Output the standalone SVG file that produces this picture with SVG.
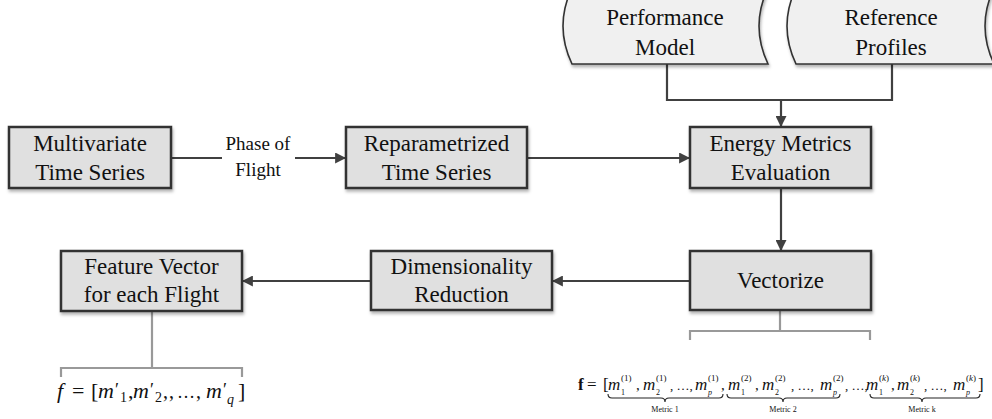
<svg xmlns="http://www.w3.org/2000/svg" width="992" height="419" viewBox="0 0 992 419">
<defs>
<filter id="sh" x="-10%" y="-10%" width="130%" height="140%">
<feDropShadow dx="1" dy="2.5" stdDeviation="1.8" flood-color="#000" flood-opacity="0.3"/>
</filter>
<marker id="ah" viewBox="0 0 10 10" refX="9" refY="5" markerWidth="11" markerHeight="11" markerUnits="userSpaceOnUse" orient="auto">
<path d="M0,0 L10,5 L0,10 Z" fill="#404040"/>
</marker>
<style>
.box{fill:#e0e0e0;stroke:#333;stroke-width:2.5;filter:url(#sh)}
.store{fill:#f0f0f0;stroke:#333;stroke-width:1.6;filter:url(#sh)}
text{font-family:'Liberation Serif','DejaVu Serif',serif;fill:#111}
.t{font-size:23px;text-anchor:middle}
.lbl{font-size:19px;text-anchor:middle}
.c{fill:none;stroke:#404040;stroke-width:2.2}
.g{fill:none;stroke:#999;stroke-width:2.2}
.mi{font-style:italic}
.brace{fill:none;stroke:#222;stroke-width:1.1}
</style>
</defs>

<g id="connectors">
<path class="c" d="M171,158 H222"/>
<path class="c" d="M295,158 H345" marker-end="url(#ah)"/>
<path class="c" d="M527,158 H689" marker-end="url(#ah)"/>
<path class="c" d="M667,64 V100 H892 V64"/>
<path class="c" d="M781,100 V126" marker-end="url(#ah)"/>
<path class="c" d="M781,188 V250" marker-end="url(#ah)"/>
<path class="c" d="M690,281 H553" marker-end="url(#ah)"/>
<path class="c" d="M371,281 H243" marker-end="url(#ah)"/>
<path class="g" d="M780,311 V331"/>
<path class="g" d="M690,340 V331 H870 V340"/>
<path class="g" d="M152,312 V368"/>
<path class="g" d="M61,377 V368 H242 V377"/>
<text class="lbl" x="258" y="150" font-family="Liberation Serif, serif">Phase of</text>
<text class="lbl" x="258" y="176" font-family="Liberation Serif, serif">Flight</text>
</g>

<g id="performance-model" font-family="Liberation Serif, serif">
<path class="store" d="M572,-12 L768,-12 Q750,26 768,64 L572,64 Q554,26 572,-12 Z"/>
<text class="t" x="665" y="25">Performance</text>
<text class="t" x="665" y="55">Model</text>
</g>

<g id="reference-profiles">
<path class="store" d="M796,-12 L994,-12 Q976,26 994,64 L796,64 Q778,26 796,-12 Z"/>
<text class="t" x="891" y="25">Reference</text>
<text class="t" x="891" y="55">Profiles</text>
</g>

<g id="multivariate">
<rect class="box" x="9" y="127" width="162" height="61"/>
<text class="t" x="90" y="151">Multivariate</text>
<text class="t" x="90" y="180">Time Series</text>
</g>

<g id="reparametrized">
<rect class="box" x="346" y="127" width="181" height="61"/>
<text class="t" x="436.5" y="151">Reparametrized</text>
<text class="t" x="436.5" y="180">Time Series</text>
</g>

<g id="energy-metrics">
<rect class="box" x="690" y="127" width="181" height="61"/>
<text class="t" x="780.5" y="151">Energy Metrics</text>
<text class="t" x="780.5" y="180">Evaluation</text>
</g>

<g id="vectorize">
<rect class="box" x="690" y="251" width="181" height="59"/>
<text class="t" x="780.5" y="288">Vectorize</text>
</g>

<g id="dimensionality">
<rect class="box" x="371" y="251" width="181" height="59"/>
<text class="t" x="461.5" y="274">Dimensionality</text>
<text class="t" x="461.5" y="302">Reduction</text>
</g>

<g id="feature-vector">
<rect class="box" x="61" y="251" width="181" height="60"/>
<text class="t" x="151.5" y="274">Feature Vector</text>
<text class="t" x="151.5" y="302">for each Flight</text>
</g>

<g id="formula-left">
<text x="57" y="398" font-size="22" class="mi">f</text>
<text x="72" y="398" font-size="22">=</text>
<text x="91" y="398" font-size="22">[</text>
<text x="98" y="398" font-size="22" class="mi">m</text>
<text x="115" y="396" font-size="18">′</text>
<text x="120" y="402" font-size="14">1</text>
<text x="128" y="398" font-size="22">,</text>
<text x="133" y="398" font-size="22" class="mi">m</text>
<text x="150" y="396" font-size="18">′</text>
<text x="155" y="402" font-size="14">2</text>
<text x="163" y="398" font-size="20">,</text>
<text x="169" y="398" font-size="20">,</text>
<text x="177" y="398" font-size="18">…</text>
<text x="196" y="398" font-size="20">,</text>
<text x="206" y="398" font-size="22" class="mi">m</text>
<text x="223" y="396" font-size="18">′</text>
<text x="227" y="404" font-size="14" class="mi">q</text>
<text x="238" y="398" font-size="22">]</text>
</g>

<g id="formula-right">
<text x="578" y="390" font-size="17" font-weight="bold">f</text>
<text x="587" y="390" font-size="17">=</text>
<text x="603" y="390" font-size="17">[</text>
<text x="608" y="390" font-size="17" class="mi">m</text>
<text x="621" y="381" font-size="9">(1)</text>
<text x="621" y="395" font-size="8">1</text>
<text x="636" y="390" font-size="15">,</text>
<text x="643" y="390" font-size="17" class="mi">m</text>
<text x="656" y="381" font-size="9">(1)</text>
<text x="656" y="395" font-size="8">2</text>
<text x="670" y="390" font-size="13">, …,</text>
<text x="695" y="390" font-size="17" class="mi">m</text>
<text x="708" y="381" font-size="9">(1)</text>
<text x="708" y="395" font-size="8" class="mi">p</text>
<text x="721" y="390" font-size="15">,</text>
<text x="728" y="390" font-size="17" class="mi">m</text>
<text x="741" y="381" font-size="9">(2)</text>
<text x="741" y="395" font-size="8">1</text>
<text x="755" y="390" font-size="15">,</text>
<text x="762" y="390" font-size="17" class="mi">m</text>
<text x="775" y="381" font-size="9">(2)</text>
<text x="775" y="395" font-size="8">2</text>
<text x="791" y="390" font-size="13">, …,</text>
<text x="820" y="390" font-size="17" class="mi">m</text>
<text x="833" y="381" font-size="9">(2)</text>
<text x="833" y="395" font-size="8" class="mi">p</text>
<text x="845" y="390" font-size="13">, …,</text>
<text x="866" y="390" font-size="17" class="mi">m</text>
<text x="879" y="381" font-size="9">(<tspan class="mi">k</tspan>)</text>
<text x="879" y="395" font-size="8">1</text>
<text x="891" y="390" font-size="15">,</text>
<text x="897" y="390" font-size="17" class="mi">m</text>
<text x="910" y="381" font-size="9">(<tspan class="mi">k</tspan>)</text>
<text x="910" y="395" font-size="8">2</text>
<text x="924" y="390" font-size="13">, …,</text>
<text x="953" y="390" font-size="17" class="mi">m</text>
<text x="966" y="381" font-size="9">(<tspan class="mi">k</tspan>)</text>
<text x="966" y="395" font-size="8" class="mi">p</text>
<text x="978" y="390" font-size="17">]</text>
<path class="brace" d="M608,394 Q608,398 612,398 L661,398 Q665,398 665,402 Q665,398 669,398 L719,398 Q723,398 723,394"/>
<path class="brace" d="M727,394 Q727,398 731,398 L779,398 Q783,398 783,402 Q783,398 787,398 L836,398 Q840,398 840,394"/>
<path class="brace" d="M870,394 Q870,398 874,398 L918,398 Q922,398 922,402 Q922,398 926,398 L976,398 Q980,398 980,394"/>
<text x="665" y="412" font-size="8" text-anchor="middle">Metric 1</text>
<text x="783" y="412" font-size="8" text-anchor="middle">Metric 2</text>
<text x="922" y="412" font-size="8" text-anchor="middle">Metric k</text>
</g>
</svg>
